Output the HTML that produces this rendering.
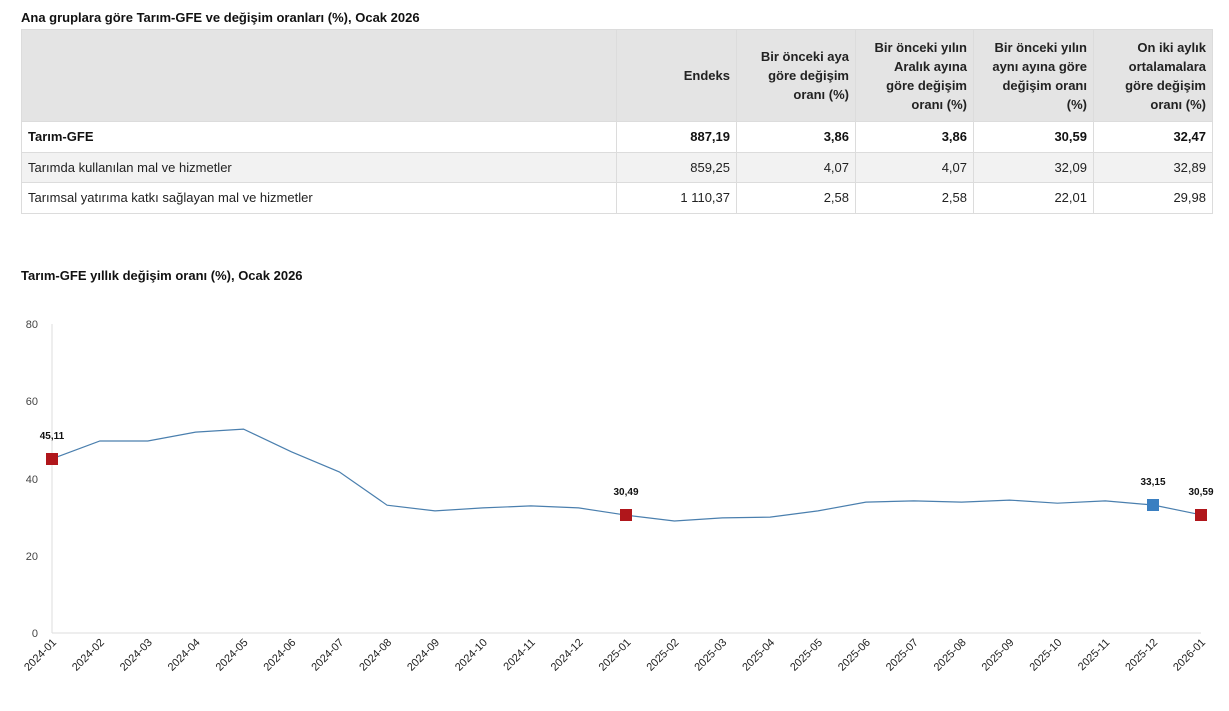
<!DOCTYPE html>
<html><head><meta charset="utf-8"><style>
body{margin:0;background:#fff;font-family:"Liberation Sans",Arial,sans-serif;color:#222;width:1229px;height:711px;overflow:hidden;position:relative}
.t1{position:absolute;left:21px;top:10px;font-size:13px;font-weight:bold;color:#111}
table{position:absolute;left:21px;top:29px;border-collapse:collapse;font-size:13px;width:1192px}
td,th{border:1px solid #dcdcdc;padding:0 6px;text-align:right}
th{background:#e4e4e4;height:91px;font-weight:bold;vertical-align:middle;line-height:19px;color:#222;padding-left:16px}
td{height:29.5px}
td:first-child{text-align:left}
tr.b td{font-weight:bold;color:#111}
tr.g td{background:#f2f2f2}
.t2{position:absolute;left:21px;top:268px;font-size:13px;font-weight:bold;color:#111}
</style></head><body>
<div class="t1">Ana gruplara göre Tarım-GFE ve değişim oranları (%), Ocak 2026</div>
<table>
<tr><th style="width:572px"></th><th style="width:97px">Endeks</th><th style="width:96px">Bir önceki aya göre değişim oranı (%)</th><th style="width:95px">Bir önceki yılın Aralık ayına göre değişim oranı (%)</th><th style="width:97px">Bir önceki yılın aynı ayına göre değişim oranı (%)</th><th>On iki aylık ortalamalara göre değişim oranı (%)</th></tr>
<tr class="b"><td>Tarım-GFE</td><td>887,19</td><td>3,86</td><td>3,86</td><td>30,59</td><td>32,47</td></tr>
<tr class="g"><td>Tarımda kullanılan mal ve hizmetler</td><td>859,25</td><td>4,07</td><td>4,07</td><td>32,09</td><td>32,89</td></tr>
<tr><td>Tarımsal yatırıma katkı sağlayan mal ve hizmetler</td><td>1 110,37</td><td>2,58</td><td>2,58</td><td>22,01</td><td>29,98</td></tr>
</table>
<div class="t2">Tarım-GFE yıllık değişim oranı (%), Ocak 2026</div>
<svg width="1229" height="711" style="position:absolute;left:0;top:0" font-family="Liberation Sans,Arial,sans-serif">
<line x1="52" y1="324" x2="52" y2="633" stroke="#ddd"/>
<line x1="52" y1="633" x2="1201" y2="633" stroke="#ddd"/>
<g font-size="11" fill="#444" text-anchor="end">
<text x="38" y="328">80</text><text x="38" y="405">60</text><text x="38" y="483">40</text><text x="38" y="560">20</text><text x="38" y="637">0</text>
</g>
<g id="xl" font-size="11" fill="#222" text-anchor="end"></g>
<polyline id="ln" fill="none" stroke="#4a7fae" stroke-width="1.2"/>
<rect x="46" y="453" width="12" height="12" fill="#b0161b"/>
<rect x="620" y="509" width="12" height="12" fill="#b0161b"/>
<rect x="1147" y="499" width="12" height="12" fill="#3a7fc1"/>
<rect x="1195" y="509" width="12" height="12" fill="#b0161b"/>
<g font-size="10" font-weight="bold" fill="#111" text-anchor="middle">
<text x="52" y="439">45,11</text><text x="626" y="495">30,49</text><text x="1153" y="485">33,15</text><text x="1201" y="495">30,59</text>
</g>
</svg>
<script>
var v=[45.11,49.7,49.7,52,52.8,46.9,41.7,33.1,31.6,32.4,32.9,32.4,30.49,29,29.8,30,31.6,33.9,34.2,33.9,34.4,33.6,34.2,33.15,30.59];
var p=[],g=document.getElementById('xl'),s='';
for(var i=0;i<25;i++){var x=52+i*47.875,y=633-v[i]*3.8625;p.push(x.toFixed(1)+','+y.toFixed(1));
var yr=2024+Math.floor(i/12),m=i%12+1;
s+='<text transform="translate('+(x+5)+',643) rotate(-45)">'+yr+'-'+(m<10?'0':'')+m+'</text>';}
document.getElementById('ln').setAttribute('points',p.join(' '));g.innerHTML=s;
</script>
</body></html>
